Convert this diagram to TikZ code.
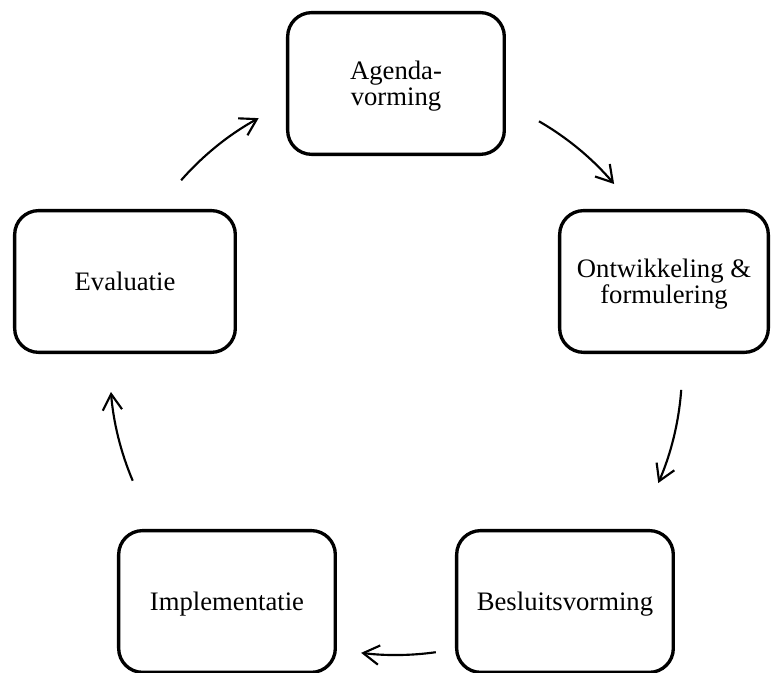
\documentclass[tikz,border=0pt]{standalone}
\usepackage{fontspec}
\setmainfont{Liberation Serif}
\usetikzlibrary{arrows.meta,calc}
\tikzset{
  phase/.style={draw=black, fill=white, line width=2.5pt, rounded corners=18pt,
    align=center, inner sep=0pt, text depth=0pt, minimum width=162.5pt,
    minimum height=106.3pt, font=\fontsize{20}{19.5}\selectfont},
  cycarrow/.style={line width=1.6pt, -{Straight Barb[length=12pt,width=14.5pt]}}
}

\begin{document}
\begin{tikzpicture}[x=0.75pt,y=0.75pt]
\useasboundingbox (-396,-304) rectangle (376,369);
\coordinate (hub) at (0,0);

% Draw the five phases of the cycle.
\node[phase] (agenda) at (0,285.5) {Agenda-\\vorming};
\node[phase, minimum width=156.5pt] (ontw) at (268,87.5) {Ontwikkeling \&\\formulering};
\node[phase] (besluit) at (169,-232.5) {Besluitsvorming};
\node[phase] (impl) at (-169,-232.5) {Implementatie};
\node[phase, minimum width=165.5pt] (eval) at (-271,87.5) {Evaluatie};

% Draw arrows along the circle round $hub$.
\foreach \S/\E in {60/40.3,-4.2/-23.5,-82/-97,203/184.6,138.7/118.7}
\draw[cycarrow] ($(hub)+(\S:286)$) arc[start angle=\S,end angle=\E,radius=286];
\end{tikzpicture}
\end{document}
